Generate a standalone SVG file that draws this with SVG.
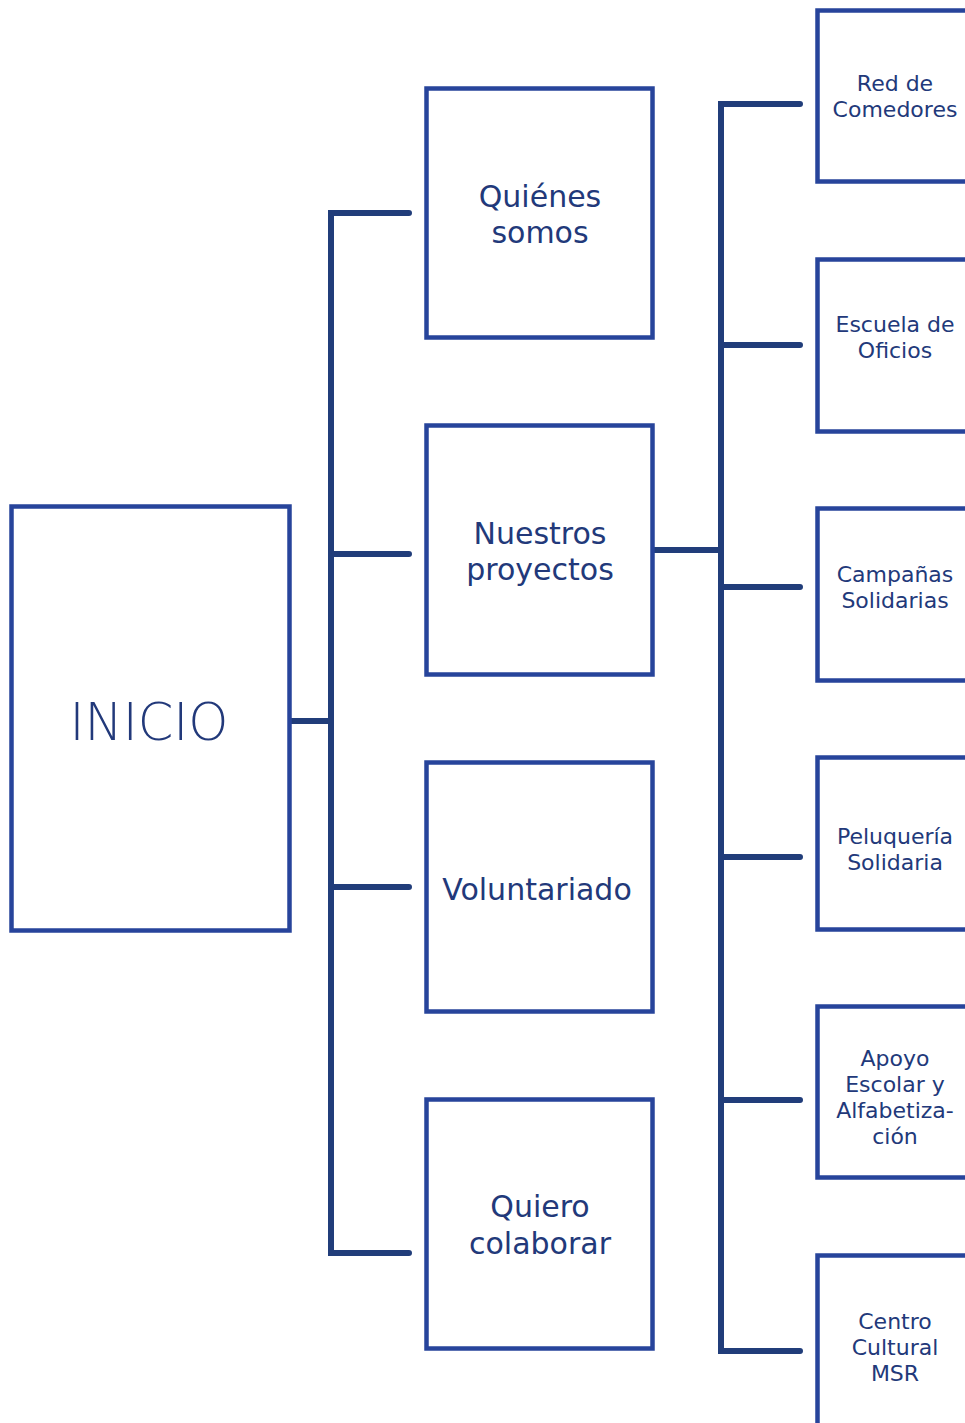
<svg xmlns="http://www.w3.org/2000/svg" width="965" height="1423" viewBox="0 0 965 1423">
<style>
.box{fill:#fff;stroke:#27449b;stroke-width:4.5}
.con{fill:none;stroke:#213d7a;stroke-width:6;stroke-linecap:round;stroke-linejoin:miter}
text{font-family:"DejaVu Sans","Liberation Sans",sans-serif;fill:#22397a;text-anchor:middle}
.l1{font-size:51px;font-weight:300}
.l2{font-size:30px;font-weight:400}
.l3{font-size:22px;font-weight:400}
</style>
<rect width="965" height="1423" fill="#fff"/>
<g id="connectors">
<path class="con" d="M291,721 H331"/>
<path class="con" d="M409,213 H331 V1253 H409 M331,554 H409 M331,887 H409"/>
<path class="con" d="M654,550 H721"/>
<path class="con" d="M800,104 H721 V1351 H800 M721,345 H800 M721,587 H800 M721,857 H800 M721,1100 H800"/>
</g>
<g id="inicio"><rect class="box" x="11.5" y="506.5" width="278" height="424"/><text class="l1" x="149" y="740">INICIO</text></g>
<g id="quienes"><rect class="box" x="426.5" y="88.5" width="226" height="249"/><text class="l2" x="540" y="207">Quiénes</text><text class="l2" x="540" y="243">somos</text></g>
<g id="proyectos"><rect class="box" x="426.5" y="425.5" width="226" height="249"/><text class="l2" x="540" y="544">Nuestros</text><text class="l2" x="540" y="580">proyectos</text></g>
<g id="voluntariado"><rect class="box" x="426.5" y="762.5" width="226" height="249"/><text class="l2" x="537" y="900">Voluntariado</text></g>
<g id="colaborar"><rect class="box" x="426.5" y="1099.5" width="226" height="249"/><text class="l2" x="540" y="1217">Quiero</text><text class="l2" x="540" y="1254">colaborar</text></g>
<g id="comedores"><rect class="box" x="817.5" y="10.5" width="200" height="171"/><text class="l3" x="895" y="91">Red de</text><text class="l3" x="895" y="117">Comedores</text></g>
<g id="oficios"><rect class="box" x="817.5" y="259.5" width="200" height="172"/><text class="l3" x="895" y="332">Escuela de</text><text class="l3" x="895" y="358">Oficios</text></g>
<g id="campanas"><rect class="box" x="817.5" y="508.5" width="200" height="172"/><text class="l3" x="895" y="582">Campañas</text><text class="l3" x="895" y="608">Solidarias</text></g>
<g id="peluqueria"><rect class="box" x="817.5" y="757.5" width="200" height="172"/><text class="l3" x="895" y="844">Peluquería</text><text class="l3" x="895" y="870">Solidaria</text></g>
<g id="apoyo"><rect class="box" x="817.5" y="1006.5" width="200" height="171"/><text class="l3" x="895" y="1066">Apoyo</text><text class="l3" x="895" y="1092">Escolar y</text><text class="l3" x="895" y="1118">Alfabetiza-</text><text class="l3" x="895" y="1144">ción</text></g>
<g id="centro"><rect class="box" x="817.5" y="1255.5" width="200" height="200"/><text class="l3" x="895" y="1329">Centro</text><text class="l3" x="895" y="1355">Cultural</text><text class="l3" x="895" y="1381">MSR</text></g>
</svg>
